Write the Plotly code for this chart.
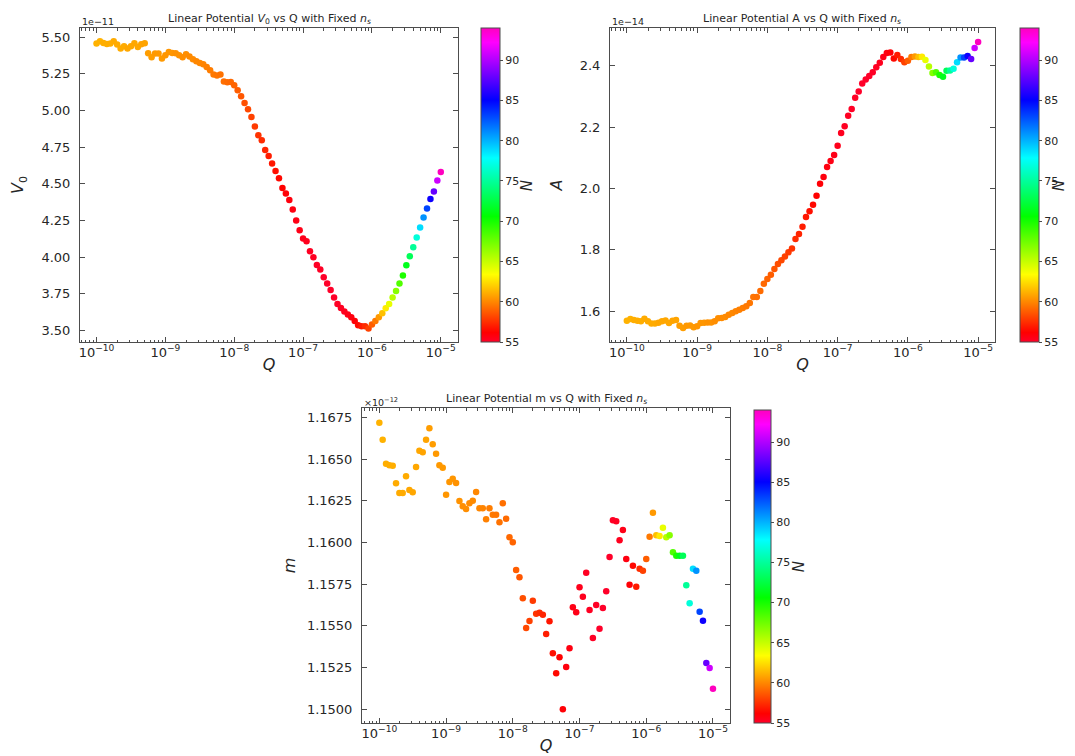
import plotly.graph_objects as go

# ---------------- data ----------------
Q_MANTISSA = [1.000, 1.122, 1.259, 1.413, 1.585, 1.778, 1.995, 2.239, 2.512, 2.818,
              3.162, 3.548, 3.981, 4.467, 5.012, 5.623, 6.310, 7.079, 7.943, 8.913]
Q_DECADES = [-10, -9, -8, -7, -6]
Q = [m * 10.0 ** d for d in Q_DECADES for m in Q_MANTISSA] + [1.0e-5]

# V0 in units of 1e-11
V0 = [5.4568, 5.4727, 5.4613, 5.4545, 5.4568, 5.4727, 5.4499, 5.4226, 5.4386, 5.4226,
      5.4386, 5.4590, 5.4340, 5.4522, 5.4590, 5.3908, 5.3635, 5.3885, 5.3885, 5.3544,
      5.3771, 5.3999, 5.3931, 5.3908, 5.3771, 5.3635, 5.3840, 5.3680, 5.3498, 5.3362,
      5.3248, 5.3157, 5.2975, 5.2747, 5.2452, 5.2383, 5.2452, 5.1974, 5.1928, 5.1951,
      5.1724, 5.1382, 5.0973, 5.0518, 5.0085, 4.9562, 4.8902, 4.8311, 4.7969, 4.7309,
      4.6900, 4.6377, 4.5876, 4.5375, 4.4716, 4.4329, 4.3897, 4.3237, 4.2486, 4.1826,
      4.1257, 4.1075, 4.0393, 3.9983, 3.9460, 3.9141, 3.8618, 3.8186, 3.7753, 3.7230,
      3.6798, 3.6525, 3.6274, 3.6070, 3.5887, 3.5637, 3.5341, 3.5273, 3.5273, 3.5114,
      3.5387, 3.5637, 3.5887, 3.6161, 3.6502, 3.6798, 3.7230, 3.7685, 3.8186, 3.8732,
      3.9437, 4.0051, 4.0666, 4.1325, 4.2008, 4.2691, 4.3305, 4.3965, 4.4465, 4.5216,
      4.5808]

# A in units of 1e-14
A = [1.5684, 1.5739, 1.5706, 1.5684, 1.5663, 1.5750, 1.5663, 1.5597, 1.5597, 1.5619,
     1.5663, 1.5695, 1.5608, 1.5684, 1.5706, 1.5521, 1.5445, 1.5521, 1.5532, 1.5467,
     1.5500, 1.5608, 1.5619, 1.5630, 1.5630, 1.5663, 1.5761, 1.5771, 1.5804, 1.5880,
     1.5934, 1.5989, 1.6043, 1.6098, 1.6152, 1.6261, 1.6456, 1.6456, 1.6652, 1.6891,
     1.7043, 1.7185, 1.7369, 1.7532, 1.7652, 1.7782, 1.7913, 1.8043, 1.8348, 1.8511,
     1.8750, 1.9065, 1.9250, 1.9467, 1.9761, 2.0152, 2.0369, 2.0696, 2.0891, 2.1087,
     2.1391, 2.1804, 2.2022, 2.2369, 2.2587, 2.2956, 2.3163, 2.3424, 2.3554, 2.3663,
     2.3783, 2.3946, 2.4098, 2.4283, 2.4413, 2.4435, 2.4239, 2.4348, 2.4217, 2.4109,
     2.4163, 2.4283, 2.4304, 2.4283, 2.4293, 2.4185, 2.3978, 2.3761, 2.3783, 2.3696,
     2.3641, 2.3837, 2.3848, 2.3902, 2.4109, 2.4272, 2.4272, 2.4315, 2.4217, 2.4576,
     2.4772]

# m in units of 1e-12
M = [1.16718, 1.16616, 1.16472, 1.16462, 1.16460, 1.16354, 1.16296, 1.16296, 1.16396, 1.16314,
     1.16300, 1.16452, 1.16550, 1.16540, 1.16616, 1.16684, 1.16588, 1.16532, 1.16462, 1.16448,
     1.16286, 1.16362, 1.16382, 1.16356, 1.16248, 1.16216, 1.16200, 1.16234, 1.16250, 1.16302,
     1.16204, 1.16204, 1.16138, 1.16204, 1.16166, 1.16166, 1.16120, 1.16234, 1.16142, 1.16030,
     1.16000, 1.15834, 1.15790, 1.15664, 1.15486, 1.15528, 1.15650, 1.15572, 1.15578, 1.15566,
     1.15450, 1.15526, 1.15334, 1.15214, 1.15310, 1.14998, 1.15252, 1.15364, 1.15610, 1.15580,
     1.15730, 1.15674, 1.15818, 1.15594, 1.15426, 1.15624, 1.15482, 1.15606, 1.15706, 1.15912,
     1.16132, 1.16126, 1.16012, 1.16074, 1.15900, 1.15746, 1.15860, 1.15734, 1.15842, 1.15830,
     1.15900, 1.16034, 1.16178, 1.16042, 1.16038, 1.16088, 1.16030, 1.16042, 1.15940, 1.15920,
     1.15920, 1.15920, 1.15742, 1.15634, 1.15842, 1.15830, 1.15584, 1.15530, 1.15276, 1.15246,
     1.15122]

N = [61.2, 61.2, 61.1, 61.1, 61.1, 61.0, 61.0, 61.0, 61.0, 60.9,
     60.9, 60.9, 60.9, 60.8, 60.8, 60.6, 60.6, 60.5, 60.5, 60.5,
     60.4, 60.4, 60.4, 60.3, 60.3, 60.2, 60.2, 60.1, 60.1, 60.0,
     60.0, 59.9, 59.8, 59.7, 59.6, 59.5, 59.4, 59.3, 59.2, 59.1,
     59.0, 58.8, 58.6, 58.4, 58.2, 58.0, 57.8, 57.6, 57.4, 57.2,
     57.0, 56.8, 56.6, 56.4, 56.2, 56.0, 55.8, 55.7, 55.6, 55.5,
     55.4, 55.3, 55.2, 55.2, 55.1, 55.1, 55.0, 55.0, 55.0, 55.0,
     55.1, 55.2, 55.3, 55.5, 55.7, 56.0, 56.4, 56.9, 57.4, 58.0,
     58.8, 59.6, 60.5, 61.6, 62.8, 64.0, 65.4, 66.8, 68.3, 69.8,
     71.4, 73.1, 74.9, 76.8, 78.8, 80.9, 83.1, 85.4, 87.9, 90.8,
     94.0]

N_MIN, N_MAX = 55.0, 94.0
CBAR_TICKS = [55, 60, 65, 70, 75, 80, 85, 90]

X_TICK_VALS = [1e-10, 1e-9, 1e-8, 1e-7, 1e-6, 1e-5]
X_TICK_TEXT = ["10<sup>\u221210</sup>", "10<sup>\u22129</sup>", "10<sup>\u22128</sup>",
               "10<sup>\u22127</sup>", "10<sup>\u22126</sup>", "10<sup>\u22125</sup>"]
Y1_TICKS = [3.50, 3.75, 4.00, 4.25, 4.50, 4.75, 5.00, 5.25, 5.50]
Y2_TICKS = [1.6, 1.8, 2.0, 2.2, 2.4]
Y3_TICKS = [1.1500, 1.1525, 1.1550, 1.1575, 1.1600, 1.1625, 1.1650, 1.1675]

TITLES = ["Linear Potential <i>V</i><sub>0</sub> vs Q with Fixed <i>n<sub>s</sub></i>",
          "Linear Potential A vs Q with Fixed <i>n<sub>s</sub></i>",
          "Linear Potential m vs Q with Fixed <i>n<sub>s</sub></i>"]

# ---------------- figure ----------------
W, H = 1075, 756
FONT = "DejaVu Sans"
LINE = "#4d4d4d"
TXT = "#262626"

GIST_RAINBOW = [[0.0, "rgb(255,0,41)"], [0.03, "rgb(255,0,0)"], [0.215, "rgb(255,255,0)"],
                [0.4, "rgb(0,255,0)"], [0.586, "rgb(0,255,255)"], [0.77, "rgb(0,0,255)"],
                [0.954, "rgb(255,0,255)"], [1.0, "rgb(255,0,191)"]]

minor_vals = [k * 10.0 ** d for d in range(-11, -4) for k in range(2, 10)]


def px_x(a, b):
    return [a / W, b / W]


def px_y(top, bottom):
    return [1 - bottom / H, 1 - top / H]


fig = go.Figure()
for vals, xa, ya, cax in [(V0, "x", "y", "coloraxis"), (A, "x2", "y2", "coloraxis2"),
                          (M, "x3", "y3", "coloraxis3")]:
    fig.add_trace(go.Scatter(x=Q, y=vals, mode="markers", xaxis=xa, yaxis=ya,
                             marker=dict(size=6.5, color=N, coloraxis=cax),
                             hoverinfo="skip", showlegend=False))

common = dict(showline=True, linecolor=LINE, linewidth=1, mirror="allticks",
              ticks="inside", ticklen=5, tickwidth=1, tickcolor=LINE,
              showgrid=False, zeroline=False,
              tickfont=dict(family=FONT, size=13, color=TXT))

def xaxis(domain, anchor, rng):
    return dict(common, type="log", domain=domain, anchor=anchor, range=rng,
                tickmode="array", tickvals=X_TICK_VALS, ticktext=X_TICK_TEXT,
                minor=dict(tickmode="array", tickvals=minor_vals, ticks="inside",
                           ticklen=2.5, tickwidth=1, tickcolor=LINE, showgrid=False),
                title=dict(text="<i>Q</i>", font=dict(family=FONT, size=16, color=TXT),
                           standoff=0),
                ticklabelstandoff=-2)

def yaxis(domain, anchor, rng, ticks, fmt, title, so):
    return dict(common, domain=domain, anchor=anchor, range=rng,
                tickmode="array", tickvals=ticks, tickformat=fmt,
                title=dict(text=title, font=dict(family=FONT, size=16, color=TXT),
                           standoff=so),
                ticklabelstandoff=6)

def cbar(x_left, thick, top, bottom):
    return dict(colorscale=GIST_RAINBOW, cmin=N_MIN, cmax=N_MAX,
                colorbar=dict(x=x_left / W, xanchor="left", thickness=thick,
                              thicknessmode="pixels", len=(bottom - top) / H,
                              lenmode="fraction", y=1 - (top + bottom) / 2 / H,
                              yanchor="middle", xpad=0, ypad=0,
                              outlinewidth=1, outlinecolor=LINE,
                              tickmode="array", tickvals=CBAR_TICKS,
                              ticks="outside", ticklen=3, tickcolor=LINE,
                              tickfont=dict(family=FONT, size=11, color=TXT)))

fig.update_layout(
    width=W, height=H, margin=dict(l=0, r=0, t=0, b=0),
    paper_bgcolor="white", plot_bgcolor="white",
    font=dict(family=FONT, color=TXT),
    xaxis=xaxis(px_x(72, 450), "y", [-10.24, -4.75]),
    yaxis=yaxis(px_y(20, 334), "x", [3.42, 5.563], Y1_TICKS, ".2f",
                "<i>V</i><sub>0</sub>", 13),
    xaxis2=xaxis(px_x(602, 987), "y2", [-10.24, -4.76]),
    yaxis2=yaxis(px_y(20, 334), "x2", [1.499, 2.523], Y2_TICKS, ".1f", "<i>A</i>", 13),
    xaxis3=xaxis(px_x(354, 722), "y3", [-10.26, -4.745]),
    yaxis3=yaxis(px_y(400, 715), "x3", [1.14916, 1.16806], Y3_TICKS, ".4f", "<i>m</i>", 7),
    coloraxis=cbar(473, 19, 20, 334),
    coloraxis2=cbar(1012, 19, 20, 334),
    coloraxis3=cbar(746, 17, 402, 715),
)

ann = []
for text, cx, cy in [(TITLES[0], 261, 11), (TITLES[1], 794, 11), (TITLES[2], 538, 391)]:
    ann.append(dict(text=text, x=cx / W, y=1 - cy / H, xref="paper", yref="paper",
                    showarrow=False, xanchor="center", yanchor="middle",
                    font=dict(family=FONT, size=11, color=TXT)))
for text, lx, cy in [("1e\u221211", 72, 14), ("1e\u221214", 602, 14),
                     ("\u00d710<sup>\u221212</sup>", 354, 394)]:
    ann.append(dict(text=text, x=lx / W, y=1 - cy / H, xref="paper", yref="paper",
                    showarrow=False, xanchor="left", yanchor="middle",
                    font=dict(family=FONT, size=9.5, color=TXT)))
for cx, cy in [(517, 177), (1049, 177), (789, 558)]:
    ann.append(dict(text="<i>N</i>", x=cx / W, y=1 - cy / H, xref="paper", yref="paper",
                    showarrow=False, textangle=90, xanchor="center", yanchor="middle",
                    font=dict(family=FONT, size=15, color=TXT)))
fig.update_layout(annotations=ann)

fig.write_html("out.html")
